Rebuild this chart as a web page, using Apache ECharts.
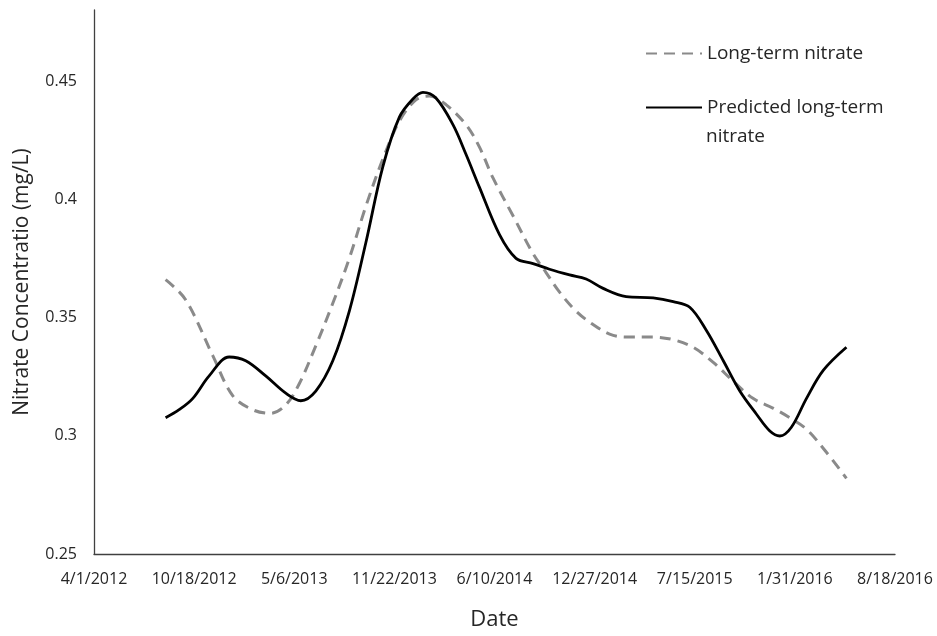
<!DOCTYPE html>
<html>
<head>
<meta charset="utf-8">
<script src="https://cdn.jsdelivr.net/npm/echarts@6/dist/echarts.min.js"></script>
<style>
html,body{margin:0;padding:0;background:#fff;}
#chart{width:937px;height:636px;}
</style>
</head>
<body>
<div id="chart"></div>
<script>
// ---- Data ----
const startDate = '2012-04-01';
const endDate = '2016-08-18';
const tickDays = 200;
const yTicks = [0.25, 0.3, 0.35, 0.4, 0.45];

const longTermDates = ['2012-08-22','2012-10-01','2012-11-24','2013-01-03','2013-02-12','2013-03-20','2013-04-19','2013-05-16','2013-06-18','2013-07-22','2013-08-24','2013-09-26','2013-10-30','2013-12-02','2014-01-04','2014-01-31','2014-03-05','2014-04-14','2014-05-11','2014-06-07','2014-07-17','2014-08-26','2014-09-21','2014-10-18','2014-11-20','2014-12-24','2015-01-26','2015-02-28','2015-04-23','2015-06-02','2015-07-12','2015-08-21','2015-09-30','2015-11-09','2015-12-19','2016-01-21','2016-02-23','2016-04-03','2016-05-13'];
const longTermValues = [0.366,0.3575,0.334,0.317,0.311,0.3095,0.313,0.322,0.338,0.356,0.375,0.397,0.417,0.433,0.442,0.4436,0.440,0.4315,0.422,0.409,0.393,0.377,0.369,0.3607,0.3527,0.347,0.343,0.3417,0.3417,0.3406,0.3374,0.331,0.323,0.3157,0.3116,0.3076,0.3028,0.293,0.282];

const predictedDates = ['2012-08-22','2012-09-18','2012-10-15','2012-11-17','2012-12-27','2013-01-29','2013-03-10','2013-04-19','2013-05-19','2013-06-18','2013-07-22','2013-08-24','2013-09-26','2013-10-30','2013-12-02','2013-12-29','2014-01-18','2014-02-13','2014-03-19','2014-04-14','2014-05-11','2014-06-20','2014-07-23','2014-08-26','2014-09-28','2014-11-07','2014-12-10','2015-01-13','2015-02-28','2015-04-23','2015-06-02','2015-07-05','2015-08-07','2015-09-10','2015-10-13','2015-11-15','2015-12-12','2016-01-01','2016-01-24','2016-02-23','2016-03-28','2016-05-13'];
const predictedValues = [0.3076,0.311,0.3157,0.3253,0.3333,0.3317,0.3253,0.318,0.3148,0.3189,0.3317,0.3527,0.3816,0.4138,0.4347,0.4424,0.4452,0.4428,0.4315,0.419,0.405,0.385,0.375,0.3728,0.3704,0.368,0.3663,0.3623,0.3588,0.3583,0.3567,0.3543,0.3446,0.3317,0.3189,0.3092,0.302,0.2999,0.3036,0.3157,0.3277,0.3374];

const seriesNames = ['Long-term nitrate', 'Predicted long-term nitrate'];

// ---- Helpers ----
const DAY = 86400000;
function toUTC(s){ const p = s.split('-').map(Number); return Date.UTC(p[0], p[1]-1, p[2]); }
const t0 = toUTC(startDate);
function dayOffset(s){ return Math.round((toUTC(s) - t0) / DAY); }
function fmtDay(d){
  const dt = new Date(t0 + d * DAY);
  return (dt.getUTCMonth()+1) + '/' + dt.getUTCDate() + '/' + dt.getUTCFullYear();
}
const longTermData = longTermDates.map((d,i) => [dayOffset(d), longTermValues[i]]);
const predictedData = predictedDates.map((d,i) => [dayOffset(d), predictedValues[i]]);

const FONT = '"Open Sans", "Liberation Sans", sans-serif';
const TXT = '#262626';

const chart = echarts.init(document.getElementById('chart'), null, {renderer:'canvas'});
chart.setOption({
  animation: false,
  backgroundColor: '#fff',
  textStyle: {fontFamily: FONT},
  grid: {left: 94, right: 42, top: 10, bottom: 79, containLabel: false},
  xAxis: {
    type: 'value',
    min: 0,
    max: dayOffset(endDate),
    interval: tickDays,
    name: 'Date',
    nameLocation: 'middle',
    nameGap: 55,
    nameTextStyle: {fontSize: 22, color: TXT, fontFamily: FONT},
    axisLine: {show: true, lineStyle: {color: '#404040', width: 1.3}},
    axisTick: {show: false},
    splitLine: {show: false},
    axisLabel: {margin: 17, fontSize: 16, color: TXT, fontFamily: FONT, formatter: v => fmtDay(v)}
  },
  yAxis: {
    type: 'value',
    min: yTicks[0],
    max: 0.48,
    interval: 0.05,
    name: 'Nitrate Concentratio (mg/L)',
    nameLocation: 'middle',
    nameGap: 61,
    nameRotate: 90,
    nameTextStyle: {fontSize: 21, color: TXT, fontFamily: FONT},
    axisLine: {show: true, lineStyle: {color: '#404040', width: 1.3}},
    axisTick: {show: false},
    splitLine: {show: false},
    axisLabel: {margin: 17, fontSize: 16, color: TXT, fontFamily: FONT, showMaxLabel: false,
      formatter: v => yTicks.some(t => Math.abs(t - v) < 1e-9) ? String(+v.toFixed(2)) : ''}
  },
  legend: {
    orient: 'vertical',
    left: 640,
    top: 39,
    itemWidth: 56,
    itemHeight: 14,
    itemGap: 35,
    itemStyle: {opacity: 0},
    textStyle: {fontSize: 19, color: TXT, fontFamily: FONT},
    formatter: n => n === seriesNames[1] ? 'Predicted long-term' : n,
    data: seriesNames
  },
  graphic: [{
    type: 'text', left: 706, top: 127,
    style: {text: 'nitrate', fontSize: 19, fill: TXT, fontFamily: FONT}
  }],
  series: [
    {
      name: seriesNames[0], type: 'line', data: longTermData, smooth: 0.35,
      symbol: 'none', showSymbol: false,
      lineStyle: {color: '#8a8a8a', width: 3, type: [11, 7]},
      itemStyle: {color: '#8a8a8a'}
    },
    {
      name: seriesNames[1], type: 'line', data: predictedData, smooth: 0.35,
      symbol: 'none', showSymbol: false,
      lineStyle: {color: '#000', width: 2.8},
      itemStyle: {color: '#000'}
    }
  ]
});
</script>
</body>
</html>
